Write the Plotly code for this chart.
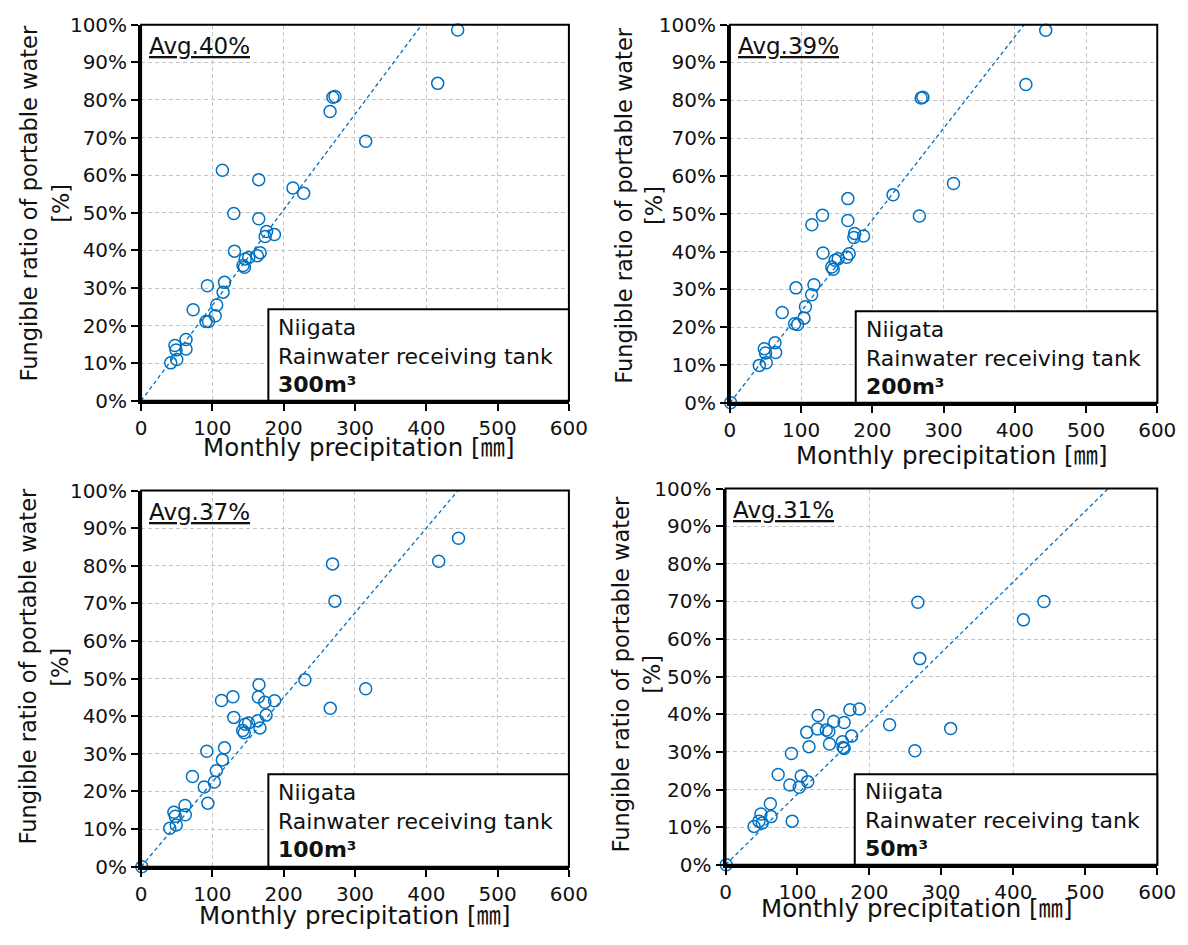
import plotly.graph_objects as go

# Monthly precipitation [mm] and fungible ratio of potable water [%] per tank size
precip_300 = [114, 165, 213, 228, 130, 165, 176, 174, 187, 131, 167, 163, 151, 146, 143, 145,
              93, 117, 115, 73, 106, 104, 91, 94.5, 63, 47.5, 49, 63, 50, 41.5,
              444, 416, 269, 272, 265, 315]
ratio_300 = [61.3, 58.8, 56.6, 55.2, 49.8, 48.4, 45.0, 43.7, 44.2, 39.8, 39.4, 38.6, 38.1, 37.7, 36.0, 35.5,
             30.6, 31.5, 28.9, 24.2, 25.5, 22.6, 21.1, 21.1, 16.3, 14.7, 13.5, 13.8, 11.0, 10.1,
             98.6, 84.4, 80.7, 80.9, 76.9, 69.0]

precip_200 = [1, 165.6, 229, 130, 115, 165.6, 175, 174, 187.6, 130.7, 167.4, 164, 152, 147.7, 143, 145,
              92.7, 118, 114.7, 73.4, 106, 104, 90.8, 95, 63.3, 48.2, 50, 64.2, 51, 41.3,
              443.4, 415.5, 268.5, 270.9, 313.9, 266]
ratio_200 = [0, 54.0, 55.0, 49.6, 47.1, 48.2, 44.8, 43.7, 44.1, 39.6, 39.4, 38.5, 38.1, 37.7, 35.9, 35.3,
             30.4, 31.2, 28.6, 23.9, 25.4, 22.4, 20.9, 20.7, 15.9, 14.3, 13.2, 13.3, 10.6, 9.9,
             98.5, 84.2, 80.6, 80.8, 58.0, 49.4]

precip_100 = [1, 165.3, 112.8, 128.8, 164.4, 173.5, 187.2, 130, 175.3, 163.5, 150.7, 146, 166.7, 142.5, 144.7,
              92.2, 117, 114, 72, 105.5, 102.7, 88.6, 93.6, 61.6, 46, 48, 62, 49.3, 40.2,
              229.7, 315, 265.3, 268.5, 271.8, 417.4, 445.2]
ratio_100 = [0, 48.4, 44.2, 45.2, 45.1, 43.7, 44.1, 39.7, 40.3, 38.8, 38.2, 37.9, 36.9, 36.2, 35.6,
             30.7, 31.6, 28.4, 24.0, 25.5, 22.5, 21.2, 16.9, 16.3, 14.5, 13.4, 13.8, 11.1, 10.2,
             49.7, 47.3, 42.1, 80.5, 70.6, 81.2, 87.3]

precip_50 = [1, 128.7, 172.9, 186, 150.3, 164.8, 112.9, 127.8, 140, 143.6, 175.2, 116, 144.5, 162.5, 163.4, 164.8,
             91.6, 73.1, 105.2, 89.4, 102.5, 114.2, 62.3, 63.2, 49.2, 46.5, 51, 39.7, 92.6,
             228, 312.9, 263.2, 267.3, 270, 414, 442.5]
ratio_50 = [0, 39.7, 41.2, 41.4, 38.1, 37.8, 35.2, 36.1, 35.8, 35.4, 34.2, 31.4, 32.1, 32.7, 31.2, 30.9,
            29.6, 24.0, 23.6, 21.2, 20.6, 22.1, 16.2, 12.8, 13.5, 11.6, 11.1, 10.2, 11.6,
            37.2, 36.2, 30.3, 69.8, 54.8, 65.1, 70.0]

tank_labels = ["300m³", "200m³", "100m³", "50m³"]
avg_labels = ["Avg.40%", "Avg.39%", "Avg.37%", "Avg.31%"]
trend_slope = [0.254, 0.242, 0.225, 0.188]   # zero-intercept trend lines [%/mm]

x_ticks = [0, 100, 200, 300, 400, 500, 600]
y_ticks = [0, 10, 20, 30, 40, 50, 60, 70, 80, 90, 100]
y_tick_text = [f"{v}%" for v in y_ticks]

series = [(precip_300, ratio_300), (precip_200, ratio_200),
          (precip_100, ratio_100), (precip_50, ratio_50)]

W, H = 1188, 945
BLUE = "#0070C0"
GRID = "#c4c4c4"
FONT = "DejaVu Sans, Noto Sans CJK JP, sans-serif"
INK = "#111111"


def px(x):
    return x / W


def py(y):
    return 1 - y / H


# plot-area corners in pixels: left, right, top, bottom
boxes = [(138, 575, 13, 399), (739.5, 1176, 13, 401),
         (138, 575, 491, 877), (735, 1176, 489, 875)]
# x-title centre, y-title line centres (line 1 x, line 2 x, y) and note-box corners
xtitle_pos = [(361, 447), (966, 455), (357, 927), (931, 920)]
ytitle_pos = [(24, 56, 196), (631, 662, 199), (22, 55, 672), (628, 660, 680)]
note_left = [268, 868, 268, 867]
note_top = [305, 307, 782, 782]

fig = go.Figure()
shapes = []
annotations = []

for i, ((xs, ys), (l, r, t, b)) in enumerate(zip(series, boxes)):
    n = i + 1
    xa = "x" if n == 1 else f"x{n}"
    ya = "y" if n == 1 else f"y{n}"
    xkey = "xaxis" if n == 1 else f"xaxis{n}"
    ykey = "yaxis" if n == 1 else f"yaxis{n}"
    vert_grid = n != 4

    fig.add_trace(go.Scatter(
        x=[0, x_ticks[-1]], y=[0, trend_slope[i] * x_ticks[-1]],
        mode="lines", line=dict(color=BLUE, width=1.3, dash="4px,3px"),
        xaxis=xa, yaxis=ya, showlegend=False, hoverinfo="skip"))
    fig.add_trace(go.Scatter(
        x=xs, y=ys, mode="markers",
        marker=dict(symbol="circle-open", size=12, color=BLUE, line=dict(width=1.5, color=BLUE)),
        xaxis=xa, yaxis=ya, showlegend=False, cliponaxis=False))

    fig.layout[xkey] = dict(
        domain=[px(l), px(r)], anchor=ya, range=[0, 600], tickvals=x_ticks,
        showgrid=vert_grid, gridcolor=GRID, griddash="4px,3px", gridwidth=1,
        zeroline=False, showline=True, linecolor="black", linewidth=3,
        ticks="outside", ticklen=7, tickwidth=2, tickcolor="black",
        tickfont=dict(size=20, color=INK, family=FONT), fixedrange=True)
    fig.layout[ykey] = dict(
        domain=[py(b), py(t)], anchor=xa, range=[0, 100],
        tickvals=y_ticks, ticktext=y_tick_text, tickmode="array",
        showgrid=True, gridcolor=GRID, griddash="4px,3px", gridwidth=1,
        zeroline=False, showline=True, linecolor="black", linewidth=3,
        ticks="outside", ticklen=7, tickwidth=2, tickcolor="black",
        tickfont=dict(size=20, color=INK, family=FONT), fixedrange=True)

    if not vert_grid:
        for gx in (200, 400):
            shapes.append(dict(type="line", xref=xa, yref=f"{ya} domain",
                               x0=gx, x1=gx, y0=0, y1=1, layer="below",
                               line=dict(color=GRID, width=1, dash="4px,3px")))

    # frame on top and right
    shapes.append(dict(type="rect", xref=f"{xa} domain", yref=f"{ya} domain",
                       x0=0, x1=1, y0=0, y1=1, line=dict(color="black", width=2),
                       fillcolor="rgba(0,0,0,0)", layer="above"))
    # note box
    shapes.append(dict(type="rect", xref="paper", yref="paper",
                       x0=px(note_left[i]), x1=px(r), y0=py(b), y1=py(note_top[i]),
                       line=dict(color="black", width=2), fillcolor="white", layer="above"))
    annotations.append(dict(
        xref="paper", yref="paper", x=px(note_left[i] + 8), y=py((note_top[i] + b) / 2 + 1),
        xanchor="left", yanchor="middle", align="left", showarrow=False,
        text=f"Niigata<br>Rainwater receiving tank<br><b>{tank_labels[i]}</b>",
        font=dict(size=22, color=INK, family=FONT)))
    annotations.append(dict(
        xref="paper", yref="paper", x=px(l + 6), y=py(t + 22),
        xanchor="left", yanchor="middle", showarrow=False,
        text=f"<u>{avg_labels[i]}</u>", font=dict(size=23, color=INK, family=FONT)))
    annotations.append(dict(
        xref="paper", yref="paper", x=px(xtitle_pos[i][0]), y=py(xtitle_pos[i][1]),
        xanchor="center", yanchor="middle", showarrow=False,
        text="Monthly precipitation [㎜]", font=dict(size=24.5, color=INK, family=FONT)))
    lx1, lx2, ly = ytitle_pos[i]
    for lx, line_text in ((lx1, "Fungible ratio of portable water"), (lx2, "[%]")):
        annotations.append(dict(
            xref="paper", yref="paper", x=px(lx), y=py(ly),
            xanchor="center", yanchor="middle", showarrow=False, textangle=-90,
            text=line_text, font=dict(size=22.5, color=INK, family=FONT)))

fig.update_layout(
    width=W, height=H, autosize=False,
    margin=dict(l=0, r=0, t=0, b=0),
    paper_bgcolor="white", plot_bgcolor="white",
    shapes=shapes, annotations=annotations,
    font=dict(family=FONT, color=INK),
)

fig.write_html("out.html", config={"displayModeBar": False})
